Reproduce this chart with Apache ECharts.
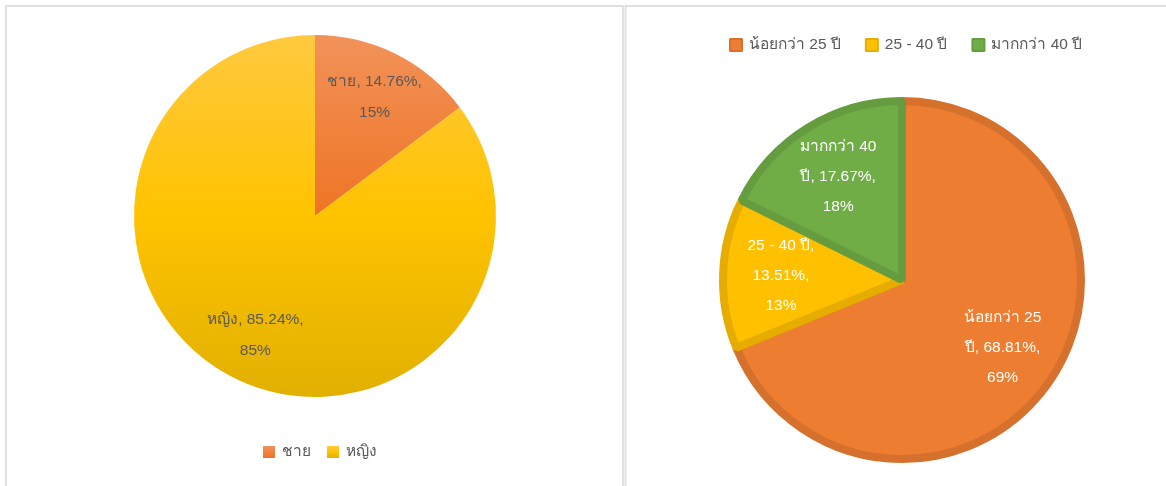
<!DOCTYPE html>
<html><head><meta charset="utf-8">
<script src="https://cdn.jsdelivr.net/npm/echarts@6/dist/echarts.min.js"></script>
<style>html,body{margin:0;padding:0;background:#fff}#c{width:1166px;height:486px}</style>
</head><body><div id="c"></div>
<script>
// ---- data ----
const leftCategories = ['ชาย', 'หญิง'];
const leftValues = [14.76, 85.24];
const rightCategories = ['น้อยกว่า 25 ปี', '25 - 40 ปี', 'มากกว่า 40 ปี'];
const rightValues = [68.81, 13.51, 17.67];

// ---- helpers ----
const FONT = '"Liberation Sans", Arial, "Noto Sans", sans-serif';
const FS = 15.5;
const ctx = document.createElement('canvas').getContext('2d');
ctx.font = FS + 'px ' + FONT;
function wrap(text, maxW) {
  const words = text.split(' ');
  const lines = []; let cur = '';
  for (const w of words) {
    const t = cur ? cur + ' ' + w : w;
    if (cur && ctx.measureText(t).width > maxW) { lines.push(cur); cur = w; } else cur = t;
  }
  if (cur) lines.push(cur);
  return lines;
}
function labelFmt(maxW) {
  return p => wrap(p.name + ', ' + p.value.toFixed(2) + '%,', maxW).concat([p.percent + '%']).join('\n');
}
const G = echarts.graphic.LinearGradient;
const leftFill = [
  new G(0, 0, 0, 1, [{offset: 0, color: '#F29259'}, {offset: 1, color: '#EE7424'}]),
  new G(0, 0, 0, 1, [{offset: 0, color: '#FFC93F'}, {offset: 0.5, color: '#FFC300'}, {offset: 1, color: '#E1B000'}])
];
const rightFill = ['#ED7D31', '#FFC000', '#70AD47'];
const rightBorder = ['#D5712C', '#E6AD00', '#659C40'];

const L = {c: [315, 216], r: 181};
const R = {c: [902, 280], r: 179};

const chart = echarts.init(document.getElementById('c'), null, {renderer: 'canvas'});
const noEmph = {disabled: true};
const legendText = {color: '#595959', fontSize: FS, fontFamily: FONT, padding: [0, 0, 0, 2]};
chart.setOption({
  animation: false,
  textStyle: {fontFamily: FONT},
  graphic: [
    {type: 'rect', z: -10, shape: {x: 6, y: 6, width: 617, height: 500}, style: {fill: '#fff', stroke: '#DDE0E4', lineWidth: 2}},
    {type: 'rect', z: -10, shape: {x: 625.5, y: 6, width: 600, height: 500}, style: {fill: '#fff', stroke: '#DDE0E4', lineWidth: 2}}
  ],
  legend: [
    {data: leftCategories, left: 258, top: 439, icon: 'rect', itemWidth: 12, itemHeight: 12, itemGap: 16,
     textStyle: legendText},
    {data: rightCategories, left: 724, top: 32, icon: 'rect', itemWidth: 12, itemHeight: 12, itemGap: 24,
     itemStyle: {borderWidth: 2},
     textStyle: legendText}
  ],
  series: [
    {type: 'pie', center: L.c, radius: L.r, percentPrecision: 0, emphasis: noEmph,
     label: {show: false}, labelLine: {show: false},
     data: leftCategories.map((n, i) => ({name: n, value: leftValues[i], itemStyle: {color: leftFill[i]}}))},
    {type: 'pie', center: L.c, radius: [L.r * 0.44, L.r], percentPrecision: 0, silent: true, legendHoverLink: false, emphasis: noEmph,
     itemStyle: {color: 'rgba(0,0,0,0)'},
     label: {show: true, position: 'inside', color: '#595959', fontSize: FS, lineHeight: 31, fontFamily: FONT, formatter: labelFmt(112)},
     labelLine: {show: false},
     data: leftCategories.map((n, i) => ({name: n, value: leftValues[i]}))},
    {type: 'pie', center: R.c, radius: R.r, percentPrecision: 0, emphasis: noEmph,
     label: {show: false}, labelLine: {show: false},
     data: rightCategories.map((n, i) => ({name: n, value: rightValues[i],
       itemStyle: {color: rightFill[i], borderColor: rightBorder[i], borderWidth: 8, borderJoin: 'bevel'}}))},
    {type: 'pie', center: R.c, radius: [R.r * 0.32, R.r], percentPrecision: 0, silent: true, legendHoverLink: false, emphasis: noEmph,
     itemStyle: {color: 'rgba(0,0,0,0)'},
     label: {show: true, position: 'inside', color: '#fff', fontSize: FS, lineHeight: 30, fontFamily: FONT, formatter: labelFmt(92)},
     labelLine: {show: false},
     data: rightCategories.map((n, i) => ({name: n, value: rightValues[i]}))}
  ]
});
</script></body></html>
